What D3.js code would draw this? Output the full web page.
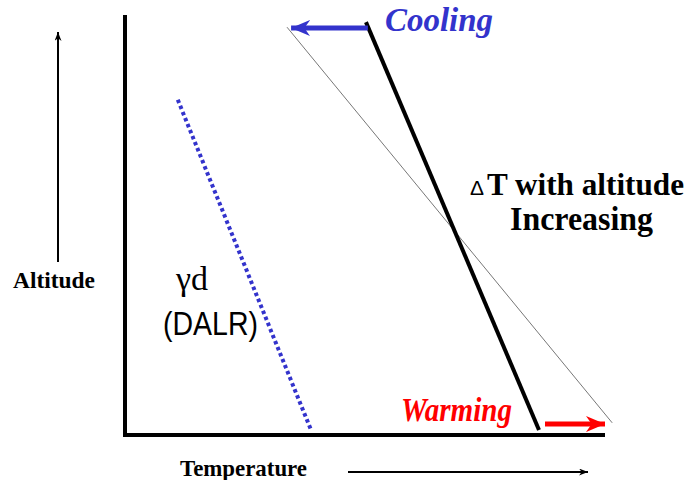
<!DOCTYPE html>
<html><head><meta charset="utf-8">
<script src="https://cdn.jsdelivr.net/npm/d3@7"></script>
<style>body{margin:0;background:#fff}</style>
</head><body>
<svg id="c" width="695" height="480"></svg>
<script>
// Data (temperature t, altitude z in arbitrary units 0..100)
const environmentLine = [{t:50.2,z:98.3},{t:86.25,z:1.2}];   // thick black
const referenceLine   = [{t:33.75,z:97.1},{t:101.5,z:2.9}];  // thin grey
const dalrLine        = [{t:11.0,z:79.8},{t:38.75,z:1.2}];   // blue dotted
const coolingArrow    = [{t:50.6,z:96.9},{t:34.6,z:96.9}];
const warmingArrow    = [{t:87.5,z:2.6},{t:100.0,z:2.6}];

const svg = d3.select("#c");
const x = d3.scaleLinear().domain([0,100]).range([125,605]);
const y = d3.scaleLinear().domain([0,100]).range([435,15]);
const line = d3.line().x(d=>x(d.t)).y(d=>y(d.z));

const defs = svg.append("defs");
function marker(id,color,w,h){
  defs.append("marker").attr("id",id).attr("viewBox",`0 0 ${w} ${h}`)
    .attr("refX",w).attr("refY",h/2).attr("markerWidth",w).attr("markerHeight",h)
    .attr("markerUnits","userSpaceOnUse").attr("orient","auto")
    .append("path").attr("d",`M0,0L${w},${h/2}L0,${h}L${w*0.3},${h/2}Z`).attr("fill",color);
}
marker("mb","#3333cc",19,16);
marker("mr","#ff0000",19,16);
marker("mk","#000",9,7);

// axes (frame)
svg.append("path").attr("d",`M${x(0)},${y(100)}L${x(0)},${y(0)}L${x(100)},${y(0)}`)
  .attr("fill","none").attr("stroke","#000").attr("stroke-width",4);

// lines
svg.append("path").attr("d",line(referenceLine)).attr("stroke","#777").attr("stroke-width",1).attr("fill","none");
svg.append("path").attr("d",line(environmentLine)).attr("stroke","#000").attr("stroke-width",4).attr("fill","none");
svg.append("path").attr("d",line(dalrLine)).attr("stroke","#3333cc").attr("stroke-width",4)
  .attr("stroke-dasharray","3.5,3").attr("fill","none");

// arrows
svg.append("path").attr("d",line(coolingArrow)).attr("stroke","#3333cc").attr("stroke-width",5)
  .attr("marker-end","url(#mb)").attr("fill","none");
svg.append("path").attr("d",line(warmingArrow)).attr("stroke","#ff0000").attr("stroke-width",5)
  .attr("marker-end","url(#mr)").attr("fill","none");

// axis label arrows
svg.append("line").attr("x1",58).attr("y1",262).attr("x2",58).attr("y2",32)
  .attr("stroke","#000").attr("stroke-width",2).attr("marker-end","url(#mk)");
svg.append("line").attr("x1",348).attr("y1",472).attr("x2",588).attr("y2",472)
  .attr("stroke","#000").attr("stroke-width",2).attr("marker-end","url(#mk)");

// texts
const serif = "'Liberation Serif','Times New Roman',serif";
const sans = "'Liberation Sans',Arial,sans-serif";
function txt(s,x0,y0,len,size,fam,opts={}){
  const t = svg.append("text").attr("x",x0).attr("y",y0).text(s)
    .attr("font-family",fam).attr("font-size",size)
    .attr("fill",opts.fill||"#000")
    .attr("font-weight",opts.bold?"bold":"normal")
    .attr("font-style",opts.italic?"italic":"normal");
  if(len) t.attr("textLength",len).attr("lengthAdjust","spacingAndGlyphs");
  return t;
}
txt("Cooling",385,31,108,33,serif,{bold:true,italic:true,fill:"#3333cc"});
txt("Warming",401,421,111,33,serif,{bold:true,italic:true,fill:"#ff0000"});
txt("\u0394",470,195,14,20,sans);
txt("T with altitude",487,195,197,31,serif,{bold:true});
txt("Increasing",510,230,143,34,serif,{bold:true});
txt("\u03B3d",176,290,null,34,serif);
txt("(DALR)",163,335,95,33,sans);
txt("Altitude",13,288,82,24,serif,{bold:true});
txt("Temperature",180,476,127,24,serif,{bold:true});
</script>
</body></html>
